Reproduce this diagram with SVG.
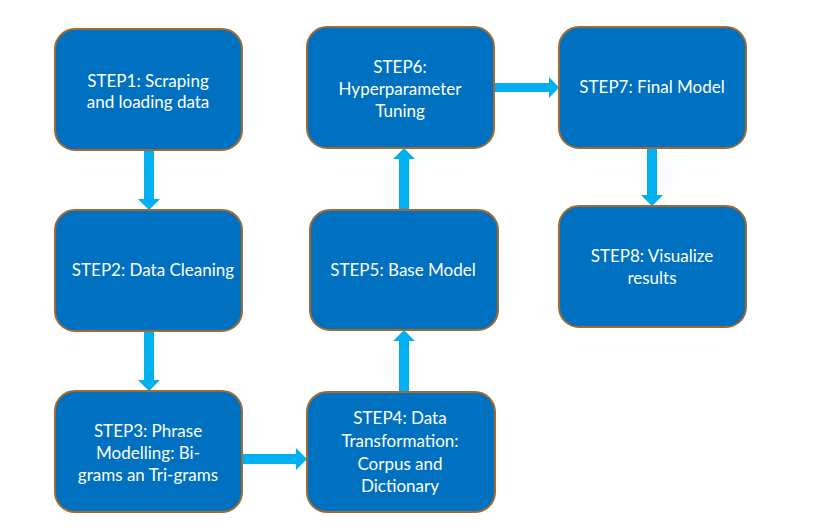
<svg xmlns="http://www.w3.org/2000/svg" width="828" height="532" viewBox="0 0 828 532">
<style>
.box{fill:#0070C0;stroke:#A06A30;stroke-width:2}
.t{fill:#FFFFFF;font-family:Lato,"Open Sans","Liberation Sans",sans-serif;font-size:17px;text-anchor:middle}
.arr{fill:#00B0F0}
</style>
<rect width="828" height="532" fill="#FFFFFF"/>
<g id="connectors">
<polygon class="arr" points="144,150 154,150 154,199 160,199 149,210 138,199 144,199"/>
<polygon class="arr" points="144,331 154,331 154,380 160,380 149,391 138,380 144,380"/>
<polygon class="arr" points="242,454 242,464 296,464 296,470 307,459 296,448 296,454"/>
<polygon class="arr" points="399,392 409,392 409,341 415,341 404,330 393,341 399,341"/>
<polygon class="arr" points="399,210 409,210 409,159 415,159 404,148 393,159 399,159"/>
<polygon class="arr" points="494,83 494,92 549,92 549,98 559,87.5 549,77 549,83"/>
<polygon class="arr" points="647,148 657,148 657,195 663,195 652,206 641,195 647,195"/>
</g>
<g id="step1"><rect class="box" x="55" y="29" width="187" height="121" rx="20"/>
<text class="t" x="148" y="87">STEP1: Scraping</text><text class="t" x="148" y="108">and loading data</text></g>
<g id="step2"><rect class="box" x="55" y="210" width="187" height="121" rx="20"/>
<text class="t" x="153" y="276">STEP2: Data Cleaning</text></g>
<g id="step3"><rect class="box" x="55" y="391" width="187" height="121" rx="20"/>
<text class="t" x="148" y="437">STEP3: Phrase</text><text class="t" x="148" y="459">Modelling: Bi-</text><text class="t" x="148" y="481">grams an Tri-grams</text></g>
<g id="step4"><rect class="box" x="307" y="392" width="188" height="120" rx="20"/>
<text class="t" x="400" y="424">STEP4: Data</text><text class="t" x="400" y="447">Transformation:</text><text class="t" x="400" y="470">Corpus and</text><text class="t" x="400" y="492">Dictionary</text></g>
<g id="step5"><rect class="box" x="310" y="210" width="188" height="120" rx="20"/>
<text class="t" x="403" y="276">STEP5: Base Model</text></g>
<g id="step6"><rect class="box" x="307" y="27" width="187" height="121" rx="20"/>
<text class="t" x="400" y="73">STEP6:</text><text class="t" x="400" y="95">Hyperparameter</text><text class="t" x="400" y="117">Tuning</text></g>
<g id="step7"><rect class="box" x="559" y="27" width="187" height="121" rx="20"/>
<text class="t" x="652" y="93">STEP7: Final Model</text></g>
<g id="step8"><rect class="box" x="559" y="206" width="187" height="121" rx="20"/>
<text class="t" x="652" y="262">STEP8: Visualize</text><text class="t" x="652" y="284">results</text></g>
</svg>
